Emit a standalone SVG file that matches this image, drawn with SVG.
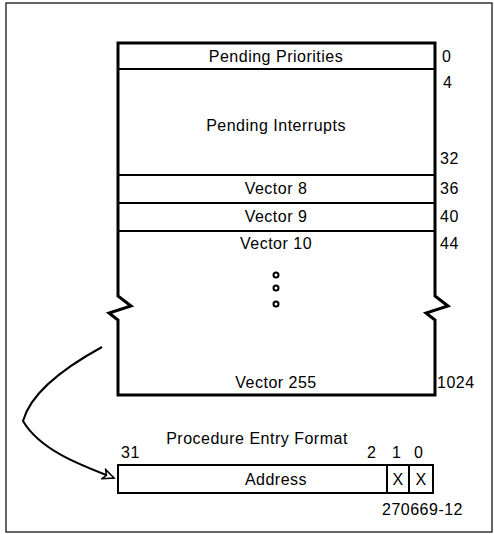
<svg xmlns="http://www.w3.org/2000/svg" width="494" height="534" viewBox="0 0 494 534">
<style>
text{font-family:"Liberation Sans",Arial,sans-serif;font-size:16px;fill:#000;letter-spacing:0.5px}
.c{text-anchor:middle}
.thick{fill:none;stroke:#000;stroke-width:3}
.thin{fill:none;stroke:#000;stroke-width:2}
.frame{fill:none;stroke:#000;stroke-width:1.2}
</style>
<defs>
<marker id="ah" markerWidth="14" markerHeight="12" refX="12" refY="6" orient="auto" markerUnits="userSpaceOnUse">
<path d="M1,1 L12,6 L1,11 L4,6 Z" fill="#fff" stroke="#000" stroke-width="1.5"/>
</marker>
</defs>
<rect class="frame" x="6" y="3" width="486" height="529"/>
<g id="table">
<path class="thick" d="M118,296 L118,43 L435,43 L435,296 L448,306 L426,313 L435,320 L435,395 L118,395 L118,320 L109,313 L131,306 Z"/>
<line class="thin" x1="118" y1="69" x2="435" y2="69"/>
<line class="thin" x1="118" y1="175" x2="435" y2="175"/>
<line class="thin" x1="118" y1="203" x2="435" y2="203"/>
<line class="thin" x1="118" y1="231" x2="435" y2="231"/>
</g>
<g id="pending-priorities"><text class="c" x="276" y="62">Pending Priorities</text><text x="442" y="62">0</text></g>
<g id="pending-interrupts"><text class="c" x="276" y="131">Pending Interrupts</text><text x="443" y="88">4</text><text x="440" y="164">32</text></g>
<g id="vector8"><text class="c" x="276" y="194">Vector 8</text><text x="440" y="194">36</text></g>
<g id="vector9"><text class="c" x="276" y="222">Vector 9</text><text x="440" y="222">40</text></g>
<g id="vector10"><text class="c" x="276" y="249">Vector 10</text><text x="440" y="249">44</text></g>
<g id="dots" fill="none" stroke="#000" stroke-width="2">
<circle cx="276" cy="275" r="2.5"/><circle cx="276" cy="288" r="2.5"/><circle cx="276" cy="304" r="2.5"/>
</g>
<g id="vector255"><text class="c" x="276" y="388">Vector 255</text><text x="437" y="388">1024</text></g>
<g id="entry-format">
<text class="c" x="257" y="444">Procedure Entry Format</text>
<text x="121" y="458">31</text>
<text x="367" y="458">2</text>
<text x="392" y="458">1</text>
<text x="414" y="458">0</text>
<rect class="thin" x="118" y="465" width="315" height="28"/>
<line class="thin" x1="387" y1="465" x2="387" y2="493"/>
<line class="thin" x1="409" y1="465" x2="409" y2="493"/>
<text class="c" x="276" y="485">Address</text>
<text class="c" x="398" y="485">X</text>
<text class="c" x="421" y="485">X</text>
</g>
<g id="connectors">
<path d="M102,347 C60,370 30,395 23,421 C40,450 80,465 114,478" fill="none" stroke="#000" stroke-width="2" marker-end="url(#ah)"/>
</g>
<text x="382" y="515">270669-12</text>
</svg>
